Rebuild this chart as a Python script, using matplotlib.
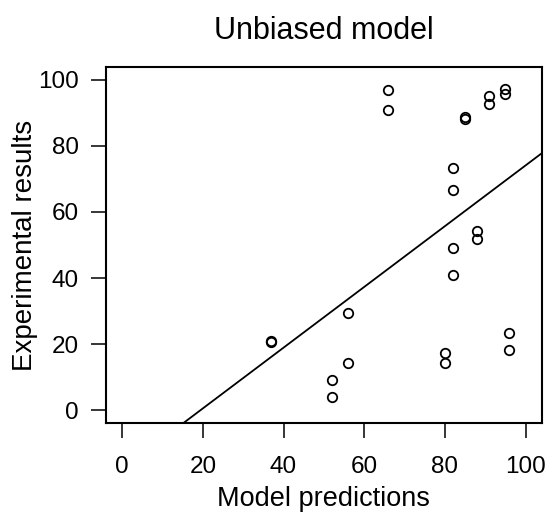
import numpy as np
import matplotlib.pyplot as plt

plt.rcParams['font.family'] = ['Liberation Sans', 'DejaVu Sans']

pred = [66, 66, 85, 85, 91, 91, 95, 95, 82, 82, 82, 82,
        88, 88, 56, 56, 37, 37, 52, 52, 80, 80, 96, 96]
expt = [97.0, 91.0, 88.9, 88.2, 95.2, 92.6, 97.4, 95.6, 73.2, 66.7, 49.2, 41.0,
        54.3, 51.8, 29.3, 14.4, 20.8, 20.6, 9.2, 4.1, 17.4, 14.2, 23.3, 18.3]

# fitted line (intercept, slope)
fit_a = -17.9
fit_b = 0.92

ticks = [0, 20, 40, 60, 80, 100]

fig = plt.figure(figsize=(5.47, 5.14), dpi=100)
ax = fig.add_axes([0.1938, 0.1765, 0.7965, 0.6937])

ax.plot(pred, expt, 'o', ms=6.8, mfc='none', mec='black', mew=1.3)

xx = np.array([-10, 110])
ax.plot(xx, fit_a + fit_b * xx, color='black', lw=1.3)

ax.set_xlim(-4, 104)
ax.set_ylim(-4, 104)
ax.set_xticks(ticks)
ax.set_yticks(ticks)
ax.tick_params(axis='both', length=10.5, width=1.1, labelsize=17.5, direction='out')
ax.tick_params(axis='x', pad=13)
ax.tick_params(axis='y', pad=9)
for s in ax.spines.values():
    s.set_linewidth(1.5)

ax.set_title('Unbiased model', fontsize=22, pad=20)
ax.set_xlabel('Model predictions', fontsize=19.5, labelpad=6)
ax.set_ylabel('Experimental results', fontsize=20, labelpad=0)

fig.savefig('out.png', dpi=100)
